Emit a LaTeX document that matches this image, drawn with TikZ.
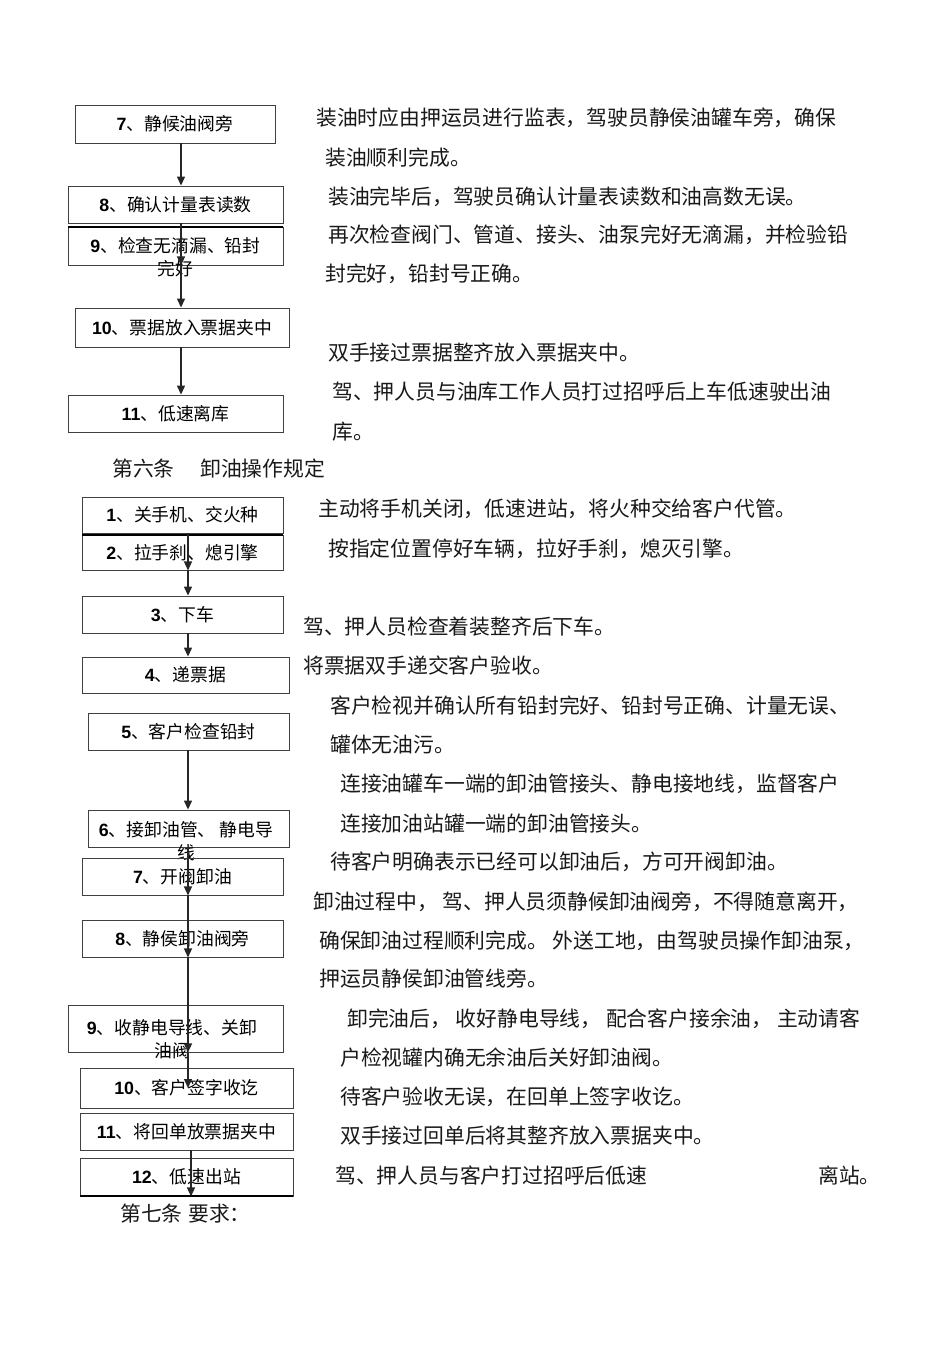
\documentclass[tikz,border=0pt]{standalone}
\usepackage{fontspec}
\setmainfont{Noto Sans CJK SC}
\newfontfamily\numfont{Liberation Sans}
\usetikzlibrary{arrows.meta}
\newcommand\nb[1]{{\numfont\bfseries #1}}
\tikzset{
  box/.style={draw=black!75, line width=0.9pt, rectangle, inner sep=0pt, fill=none,
    font=\fontsize{17.8}{23}\selectfont},
  boxtext/.style={inner sep=0pt, align=center, font=\fontsize{17.8}{23}\selectfont},
  body/.style={anchor=base west, inner sep=0pt, text=black!90, font=\fontsize{20.8}{24}\selectfont},
  head/.style={anchor=base west, inner sep=0pt, text=black!90, font=\fontsize{20.8}{24}\selectfont},
  arr/.style={draw=black!85, line width=1.3pt, -{Triangle[width=8pt,length=9pt]}},
  thickline/.style={draw=black, line width=2pt}
}
\begin{document}
\begin{tikzpicture}[x=1pt,y=-1pt]
\useasboundingbox (0,0) rectangle (950,1345);
\fill[white] (0,0) rectangle (950,1345);

% ---------- top section boxes ----------
\node[box, minimum width=200pt, minimum height=38pt] (b7) at (175,124) {\nb{7}、静候油阀旁};
\node[box, minimum width=215pt, minimum height=37pt] (b8) at (175.5,204.5) {\nb{8}、确认计量表读数};
\node[box, minimum width=215pt, minimum height=38pt] (b9) at (175.5,246) {};
\node[boxtext] (t9) at (175.5,257) {\nb{9}、检查无滴漏、铅封\\完好};
\node[box, minimum width=214pt, minimum height=39pt] (b10) at (182,327.5) {\nb{10}、票据放入票据夹中};
\node[box, minimum width=215pt, minimum height=37pt] (b11) at (175.5,413.5) {\nb{11}、低速离库};
\draw[thickline] (b9.north west) -- (b9.north east);

\coordinate (axT) at (181,0);
\draw[arr] (b7.south -| axT) -- (b8.north -| axT);
\draw[arr] (b8.south -| axT) -- (b9.south -| axT);
\draw[arr] (b9.south -| axT) -- (b10.north -| axT);
\draw[arr] (b10.south -| axT) -- (b11.north -| axT);

% ---------- top section text ----------
\node[body] (l1) at (316,125) {装油时应由押运员进行监表，驾驶员静侯油罐车旁，确保};
\node[body] (l2) at (325,165) {装油顺利完成。};
\node[body] (l3) at (328,204) {装油完毕后，驾驶员确认计量表读数和油高数无误。};
\node[body] (l4) at (328,242) {再次检查阀门、管道、接头、油泵完好无滴漏，并检验铅};
\node[body] (l5) at (325,281) {封完好，铅封号正确。};
\node[body] (l6) at (328,360) {双手接过票据整齐放入票据夹中。};
\node[body] (l7) at (332,399) {驾、押人员与油库工作人员打过招呼后上车低速驶出油};
\node[body] (l8) at (332,439) {库。};
\node[head] (h6a) at (112,476) {第六条};
\node[head] (h6b) at (200,476) {卸油操作规定};

% ---------- bottom section boxes ----------
\node[box, minimum width=201pt, minimum height=36pt] (d1) at (182.5,515) {\nb{1}、关手机、交火种};
\node[box, minimum width=201pt, minimum height=35pt] (d2) at (182.5,552.5) {\nb{2}、拉手刹、熄引擎};
\node[box, minimum width=201pt, minimum height=37pt] (d3) at (182.5,614.5) {\nb{3}、下车};
\node[box, minimum width=207pt, minimum height=36pt] (d4) at (185.5,675) {\nb{4}、递票据};
\node[box, minimum width=201pt, minimum height=37pt] (d5) at (188.5,731.5) {\nb{5}、客户检查铅封};
\node[box, minimum width=201pt, minimum height=37pt] (d6) at (188.5,828.5) {};
\node[boxtext] (t6) at (186,841) {\nb{6}、接卸油管、 静电导\\线};
\node[box, minimum width=201pt, minimum height=37pt] (d7) at (182.5,876.5) {\nb{7}、开阀卸油};
\node[box, minimum width=201pt, minimum height=37pt] (d8) at (182.5,938.5) {\nb{8}、静侯卸油阀旁};
\node[box, minimum width=215pt, minimum height=47pt] (d9) at (175.5,1028.5) {};
\node[boxtext] (t9b) at (172,1039) {\nb{9}、收静电导线、关卸\\油阀};
\node[box, minimum width=213pt, minimum height=40pt] (d10) at (186.5,1088) {\nb{10}、客户签字收讫};
\node[box, minimum width=213pt, minimum height=37pt] (d11) at (186.5,1131.5) {\nb{11}、将回单放票据夹中};
\node[box, minimum width=213pt, minimum height=38pt] (d12) at (186.5,1177) {\nb{12}、低速出站};
\draw[thickline] (d2.north west) -- (d2.north east);
\draw[thickline] (d12.south west) -- (d12.south east);

\coordinate (axB) at (188,0);
\coordinate (axC) at (191,0);
\draw[arr] (d1.south -| axB) -- (d2.south -| axB);
\draw[arr] (d2.south -| axB) -- (d3.north -| axB);
\draw[arr] (d3.south -| axB) -- (d4.north -| axB);
\draw[arr] (d5.south -| axB) -- (d6.north -| axB);
\draw[arr] (d6.south -| axB) -- (d7.south -| axB);
\draw[arr] (d7.south -| axB) -- (d8.south -| axB);
\draw[arr] (d8.south -| axB) -- (d9.south -| axB);
\draw[arr] (d9.south -| axB) -- (d10.center -| axB);
\draw[arr] (d11.south -| axC) -- (d12.south -| axC);

% ---------- bottom section text ----------
\node[body] (m1) at (318,516) {主动将手机关闭，低速进站，将火种交给客户代管。};
\node[body] (m2) at (328,556) {按指定位置停好车辆，拉好手刹，熄灭引擎。};
\node[body] (m3) at (303,634) {驾、押人员检查着装整齐后下车。};
\node[body] (m4) at (303,673) {将票据双手递交客户验收。};
\node[body] (m5) at (330,713) {客户检视并确认所有铅封完好、铅封号正确、计量无误、};
\node[body] (m6) at (330,752) {罐体无油污。};
\node[body] (m7) at (340,791) {连接油罐车一端的卸油管接头、静电接地线，监督客户};
\node[body] (m8) at (340,831) {连接加油站罐一端的卸油管接头。};
\node[body] (m9) at (330,869) {待客户明确表示已经可以卸油后，方可开阀卸油。};
\node[body] (m10) at (313,909) {卸油过程中， 驾、押人员须静候卸油阀旁，不得随意离开，};
\node[body] (m11) at (319,948) {确保卸油过程顺利完成。 外送工地，由驾驶员操作卸油泵，};
\node[body] (m12) at (319,986) {押运员静侯卸油管线旁。};
\node[body] (m13) at (347,1026) {卸完油后， 收好静电导线， 配合客户接余油， 主动请客};
\node[body] (m14) at (340,1065) {户检视罐内确无余油后关好卸油阀。};
\node[body] (m15) at (340,1104) {待客户验收无误，在回单上签字收讫。};
\node[body] (m16) at (340,1143) {双手接过回单后将其整齐放入票据夹中。};
\node[body] (m17) at (335,1183) {驾、押人员与客户打过招呼后低速};
\node[body] (m18) at (818,1183) {离站。};
\node[head] (h7a) at (120,1221) {第七条};
\node[head] (h7b) at (188,1221) {要求：};
\end{tikzpicture}
\end{document}
